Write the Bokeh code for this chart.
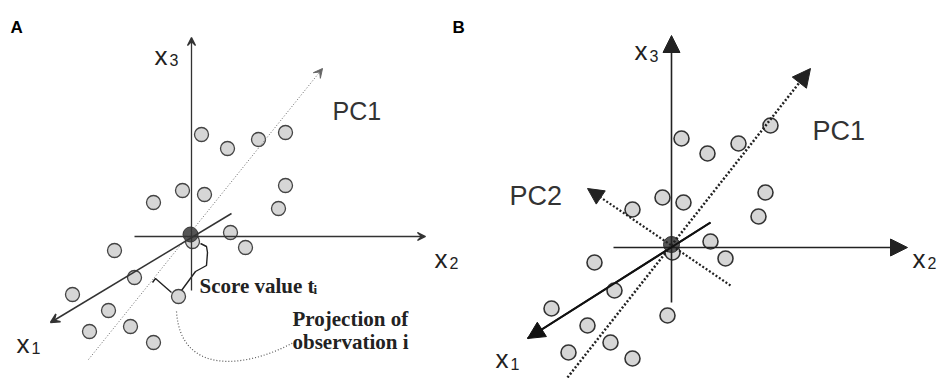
from bokeh.plotting import figure
from bokeh.models import Range1d, Arrow, VeeHead, NormalHead
from bokeh.core.properties import value
from bokeh.embed import file_html
from bokeh.resources import INLINE

# ---- Panel A : observation points (page pixel coords) ----
a_pts_x = [201, 227, 258, 285, 182, 204, 153, 285, 278, 230, 245, 114, 134, 72, 108, 178, 89, 130, 153, 192]
a_pts_y = [134, 148, 139, 132, 190, 194, 202, 185, 208, 232, 247, 250, 277, 294, 310, 296, 331, 326, 342, 241]
a_origin = (190, 234)
a_x3 = [(191, 290), (191, 37)]
a_x2 = [(134, 236), (425, 236)]
a_x1 = [(231, 213), (50, 322)]
a_pc1 = [(88, 359), (322, 68)]

# ---- Panel B ----
b_pts_x = [681, 707, 738, 770, 662, 683, 632, 765, 758, 710, 725, 594, 614, 551, 587, 667, 568, 610, 632, 672]
b_pts_y = [138, 153, 143, 125, 197, 202, 209, 192, 216, 241, 258, 262, 290, 308, 325, 315, 352, 342, 358, 252]
b_origin = (671, 244)
b_x3 = [(671, 302), (671, 35)]
b_x2 = [(613, 247), (907, 247)]
b_x1 = [(710, 222), (527, 338)]
b_pc1 = [(567, 377), (810, 68)]
b_pc2 = [(730, 285), (587, 188)]

p = figure(width=943, height=378, output_backend="svg", toolbar_location=None,
           x_range=Range1d(0, 943), y_range=Range1d(378, 0), min_border=0,
           outline_line_color=None, background_fill_color="white")
p.axis.visible = False
p.grid.visible = False

def ln(seg, color="#333333", width=1.3, dash="solid"):
    (x0, y0), (x1, y1) = seg
    p.line([x0, x1], [y0, y1], line_color=color, line_width=width, line_dash=dash)

def arrow_vee(seg, color="#333333", width=1.3, dash="solid", size=9):
    (x0, y0), (x1, y1) = seg
    p.add_layout(Arrow(x_start=x0, y_start=y0, x_end=x1, y_end=y1,
                       line_color=color, line_width=width, line_dash=dash,
                       end=VeeHead(size=size, line_color=color, line_width=width,
                                   fill_color=color)))

def arrow_filled(seg, color="#222222", width=1.6, dash="solid", size=16):
    (x0, y0), (x1, y1) = seg
    p.add_layout(Arrow(x_start=x0, y_start=y0, x_end=x1, y_end=y1,
                       line_color=color, line_width=width, line_dash=dash,
                       end=NormalHead(size=size, line_color=color, line_width=1,
                                      fill_color=color)))

# ---- Panel A drawing ----
arrow_vee(a_pc1, color="#666666", width=1, dash="1 2", size=9)
arrow_vee(a_x3, size=8)
arrow_vee(a_x2, size=8)
arrow_vee(a_x1, width=1.5, size=9)
# bracket "score value"
p.line([200, 206, 207, 206, 195, 181], [243, 246, 252, 265, 271, 290], line_color="#222222", line_width=1.4)
# perpendicular projection line
p.line([152, 155, 171], [282, 278, 292], line_color="#222222", line_width=1.4)
# dotted curve to "Projection of observation i"
p.bezier(x0=[176], y0=[311], x1=[293], y1=[342], cx0=[180], cy0=[375], cx1=[245], cy1=[368],
         line_color="#555555", line_width=1.2, line_dash="1 2")
p.scatter(a_pts_x, a_pts_y, size=14, fill_color="#d6d6d6", line_color="#444444", line_width=1.3)
p.scatter([a_origin[0]], [a_origin[1]], size=15, fill_color="#555555", line_color="#333333", line_width=1)

# ---- Panel B drawing ----
ln(b_x1, color="#111111", width=2)
arrow_filled(b_pc1, color="#222222", width=2.5, dash="2 2", size=18)
arrow_filled(b_pc2, color="#222222", width=2.2, dash="2 2", size=16)
arrow_filled(b_x3, color="#222222", width=1.6, size=17)
arrow_filled(b_x2, color="#222222", width=1.6, size=17)
arrow_filled(b_x1, color="#111111", width=2, size=17)
p.scatter(b_pts_x, b_pts_y, size=15, fill_color="#d6d6d6", line_color="#333333", line_width=1.6)
p.scatter([b_origin[0]], [b_origin[1]], size=16, fill_color="#555555", line_color="#333333", line_width=1)

# ---- Texts ----
sans = value("Liberation Sans")
serif = value("Liberation Serif")

def txt(x, y, s, size, font=sans, style="normal", color="#222222"):
    p.text([x], [y], text=[s], text_font=font, text_font_size=f"{size}px",
           text_font_style=style, text_color=color, text_align="left",
           text_baseline="alphabetic")

txt(10, 27, "A", 17, style="bold", color="#000000")
txt(452, 27, "B", 17, style="bold", color="#000000")

# Panel A labels
txt(154, 55, "x", 26); txt(169, 59, "3", 16)
txt(434, 258, "x", 26); txt(449, 262, "2", 16)
txt(16, 343, "x", 26); txt(31, 347, "1", 16)
txt(332, 110, "PC1", 25, color="#333333")
txt(199, 285, "Score value t", 21, font=serif, style="bold")
txt(313, 289, "i", 13, font=serif, style="bold")
txt(292, 318, "Projection of", 21, font=serif, style="bold")
txt(292, 341, "observation i", 21, font=serif, style="bold")

# Panel B labels
txt(634, 50, "x", 26); txt(649, 55, "3", 16)
txt(912, 258, "x", 26); txt(927, 262, "2", 16)
txt(495, 358, "x", 26); txt(510, 363, "1", 16)
txt(812, 130, "PC1", 27, color="#333333")
txt(509, 195, "PC2", 27, color="#333333")

open("out.html", "w").write(file_html(p, INLINE))
